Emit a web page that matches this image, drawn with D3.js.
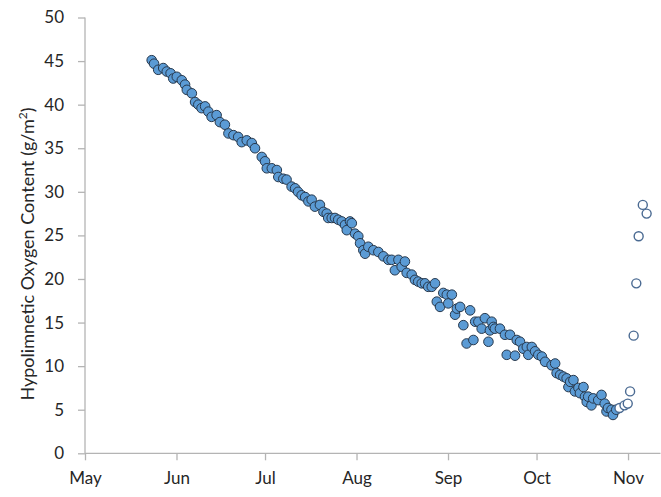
<!DOCTYPE html>
<html>
<head>
<meta charset="utf-8">
<script src="https://cdn.jsdelivr.net/npm/d3@7"></script>
<style>
  html, body { margin: 0; padding: 0; background: #fff; }
  svg { display: block; }
  text { font-family: Lato, "Liberation Sans", sans-serif; fill: #262626; }
</style>
</head>
<body>
<svg id="chart" width="661" height="497"></svg>
<script>
// Hypolimnetic oxygen content through the stratified season (decimal day of year, 2013)
const dayStratified = [
  143.6, 144.4, 145.8, 147.5, 148.7, 150.0, 150.9, 152.1, 153.8, 154.9,
  155.5, 157.2, 158.3, 159.4, 160.5, 161.7, 162.8, 163.9, 165.6, 166.7,
  168.4, 169.6, 171.3, 172.9, 174.1, 175.8, 177.5, 178.6, 180.9, 182.0,
  182.6, 184.3, 186.0, 186.5, 188.2, 189.3, 191.0, 192.2, 193.2, 194.4,
  195.6, 196.7, 197.8, 198.9, 200.6, 201.8, 202.9, 203.4, 204.6, 205.7,
  206.8, 208.0, 209.1, 209.7, 210.8, 211.4, 212.5, 213.6, 214.2, 215.3,
  215.9, 217.0, 218.7, 220.4, 222.1, 223.8, 224.9, 226.0, 227.2, 228.3,
  229.4, 230.0, 231.7, 232.8, 233.9, 235.1, 236.2, 237.3, 238.5, 239.6,
  240.2, 241.3, 242.4, 243.6, 244.1, 245.3, 246.4, 247.0, 248.1, 249.2,
  250.3, 251.5, 252.6, 253.2, 254.3, 255.4, 256.5, 257.7, 258.2, 258.8,
  259.4, 259.9, 261.6, 263.3, 263.9, 265.0, 266.7, 267.3, 268.4, 269.5,
  270.7, 271.2, 272.4, 273.5, 274.6, 275.8, 276.9, 279.1, 280.3, 280.8,
  282.0, 283.1, 284.2, 284.8, 285.4, 286.5, 287.0, 288.2, 288.7, 289.9,
  290.4, 291.0, 291.5, 292.6, 293.2, 294.9, 296.0, 297.1, 297.7, 298.2,
  299.4, 299.9, 301.0
];
const oxygenStratified = [
  45.1, 44.7, 44.0, 44.2, 43.8, 43.6, 43.0, 43.2, 42.8, 42.3,
  41.7, 41.3, 40.3, 40.0, 39.6, 39.8, 39.2, 38.6, 38.8, 38.0,
  37.7, 36.7, 36.5, 36.3, 35.7, 35.9, 35.6, 35.0, 34.0, 33.5,
  32.7, 32.7, 32.5, 31.7, 31.5, 31.4, 30.6, 30.4, 30.0, 29.6,
  29.4, 28.9, 29.1, 28.3, 28.5, 27.7, 27.5, 27.0, 27.0, 27.0,
  26.8, 26.6, 26.2, 25.6, 26.6, 26.4, 25.2, 24.9, 24.1, 23.3,
  22.9, 23.7, 23.3, 23.1, 22.6, 22.2, 22.2, 21.0, 22.2, 21.4,
  22.0, 20.7, 20.5, 19.9, 19.7, 19.5, 19.5, 19.1, 19.1, 19.5,
  17.4, 16.8, 18.4, 18.2, 17.2, 18.2, 15.9, 16.6, 16.8, 14.7,
  12.6, 16.4, 13.0, 15.1, 15.1, 14.3, 15.5, 12.8, 14.1, 15.1,
  14.5, 14.3, 14.3, 13.6, 11.3, 13.6, 11.2, 13.0, 12.8, 12.0,
  12.2, 11.3, 12.2, 11.7, 11.3, 11.1, 10.5, 10.1, 10.3, 9.2,
  9.0, 8.8, 8.6, 7.6, 8.2, 8.4, 7.1, 7.5, 6.9, 7.6,
  6.5, 5.9, 6.5, 5.5, 6.3, 6.1, 6.7, 5.7, 4.8, 5.2,
  5.0, 4.4, 5.0
];

// After turnover
const dayMixed = [302.1, 303.8, 304.9, 305.7, 306.9, 307.8, 308.6, 310.0, 311.3];
const oxygenMixed = [5.2, 5.5, 5.7, 7.1, 13.5, 19.5, 24.9, 28.5, 27.5];

const yTicks = [0, 5, 10, 15, 20, 25, 30, 35, 40, 45, 50];
const yTitle = "Hypolimnetic Oxygen Content (g/m";
const yTitleSup = "2";
const year = 2013;

const toDate = doy => new Date(Date.UTC(year, 0, 1) + (doy - 1) * 864e5);

const svg = d3.select("#chart");
const x = d3.scaleUtc()
  .domain([new Date(Date.UTC(year, 4, 1)), new Date(Date.UTC(year, 10, 12))])
  .range([85, 660.5]);
const y = d3.scaleLinear().domain([0, 50]).range([453.3, 17.5]);

const axisColor = "#b4b4b4";

// y axis
const yAxis = svg.append("g")
  .attr("transform", `translate(${x.range()[0]},0)`)
  .call(d3.axisLeft(y).tickValues(yTicks).tickSize(7).tickPadding(14));
// x axis
const monthTicks = d3.utcMonth.range(new Date(Date.UTC(year, 4, 1)), new Date(Date.UTC(year, 10, 2)));
const xAxis = svg.append("g")
  .attr("transform", `translate(0,${y(0)})`)
  .call(d3.axisBottom(x).tickValues(monthTicks).tickFormat(d3.utcFormat("%b")).tickSize(7).tickPadding(12));

[yAxis, xAxis].forEach(g => {
  g.select(".domain").attr("stroke", axisColor).attr("stroke-width", 1.3);
  g.selectAll(".tick line").attr("stroke", axisColor).attr("stroke-width", 1.3);
  g.selectAll(".tick text").attr("font-size", 17).attr("fill", "#262626")
    .style("font-family", "Lato, 'Liberation Sans', sans-serif");
});
yAxis.select(".domain").attr("d", `M0,${y(0)}V${y(50)}`);
xAxis.select(".domain").attr("d", `M${x.range()[0]},0H${x.range()[1]}`);

// y axis title
const title = svg.append("text")
  .attr("transform", "translate(34,254) rotate(-90)")
  .attr("text-anchor", "middle")
  .attr("font-size", 18);
title.append("tspan").text(yTitle);
title.append("tspan").attr("font-size", 12).attr("dy", -7).text(yTitleSup);
title.append("tspan").attr("dy", 7).text(")");

// stratified-period points
svg.append("g").selectAll("circle")
  .data(d3.range(dayStratified.length))
  .join("circle")
  .attr("cx", i => x(toDate(dayStratified[i])))
  .attr("cy", i => y(oxygenStratified[i]))
  .attr("r", 4.8)
  .attr("fill", "#5b9bd5")
  .attr("stroke", "#27384c")
  .attr("stroke-width", 1);

// post-turnover points
svg.append("g").selectAll("circle")
  .data(d3.range(dayMixed.length))
  .join("circle")
  .attr("cx", i => x(toDate(dayMixed[i])))
  .attr("cy", i => y(oxygenMixed[i]))
  .attr("r", 4.5)
  .attr("fill", "#fff")
  .attr("stroke", "#4a6a92")
  .attr("stroke-width", 1.4);
</script>
</body>
</html>
